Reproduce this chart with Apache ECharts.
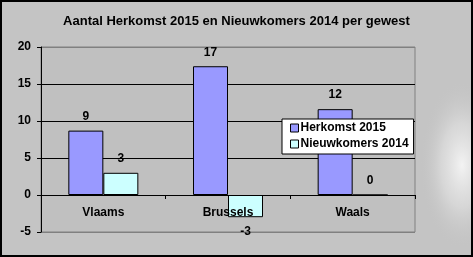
<!DOCTYPE html>
<html>
<head>
<meta charset="utf-8">
<script src="https://cdn.jsdelivr.net/npm/echarts@6/dist/echarts.min.js"></script>
<style>
html,body{margin:0;padding:0;}
#c{width:473px;height:257px;}
</style>
</head>
<body>
<div id="c"></div>
<script>
var titleText = 'Aantal Herkomst 2015 en Nieuwkomers 2014 per gewest';
var categories = ['Vlaams', 'Brussels', 'Waals'];
var seriesNames = ['Herkomst 2015', 'Nieuwkomers 2014'];
var herkomst2015 = [8.7, 17.4, 11.6];
var nieuwkomers2014 = [3, -3, 0];
var yMin = -5, yMax = 20, yStep = 5;

var W = 473, H = 257;
var gridBox = {left: 41, right: 58, top: 47, bottom: 25};
var gridH = H - gridBox.top - gridBox.bottom;
// move category axis up to the value 0 of the value axis
var xAxisOffset = -gridH * (0 - yMin) / (yMax - yMin);

var FONT = 'Arial, "Liberation Sans", sans-serif';
var chart = echarts.init(document.getElementById('c'), null, {renderer: 'canvas'});

function labelled(values) {
  return values.map(function (v) {
    return {
      value: v,
      label: {position: v < 0 ? 'bottom' : 'top'}
    };
  });
}

var barLabel = {
  show: true,
  distance: 8,
  color: '#000',
  fontFamily: FONT,
  fontSize: 12,
  fontWeight: 'bold',
  formatter: function (p) { return String(Math.round(p.value)); }
};

chart.setOption({
  animation: false,
  backgroundColor: '#c4c4c4',
  graphic: [
    {
      type: 'circle', z: -10, silent: true,
      x: 462, y: 165, scaleY: 2,
      shape: {cx: 0, cy: 0, r: 42},
      style: {
        fill: {
          type: 'radial', x: 0.5, y: 0.5, r: 0.5,
          colorStops: [
            {offset: 0, color: 'rgba(248,248,248,0.9)'},
            {offset: 0.5, color: 'rgba(230,230,230,0.55)'},
            {offset: 1, color: 'rgba(196,196,196,0)'}
          ]
        }
      }
    },
    {
      type: 'rect', z: 100, silent: true,
      shape: {x: 1, y: 1, width: W - 2, height: H - 2},
      style: {fill: 'none', stroke: '#000', lineWidth: 2}
    }
  ],
  title: {
    text: titleText,
    left: 'center',
    top: 15,
    padding: 0,
    textStyle: {fontFamily: FONT, fontSize: 13, fontWeight: 'bold', color: '#000'}
  },
  legend: {
    data: seriesNames,
    orient: 'vertical',
    left: 282,
    top: 119,
    width: 133,
    padding: [3, 5, 4, 8],
    itemGap: 4,
    itemWidth: 8,
    itemHeight: 8,
    icon: 'rect',
    backgroundColor: '#fff',
    borderColor: '#000',
    borderWidth: 1,
    borderRadius: 0,
    itemStyle: {borderColor: '#000', borderWidth: 1},
    textStyle: {fontFamily: FONT, fontSize: 12, fontWeight: 'bold', color: '#000', padding: [0, 0, 0, -3]}
  },
  grid: {
    left: gridBox.left, right: gridBox.right, top: gridBox.top, bottom: gridBox.bottom,
    show: true,
    backgroundColor: '#c0c0c0',
    borderColor: '#808080',
    borderWidth: 1,
    containLabel: false
  },
  xAxis: {
    type: 'category',
    data: categories,
    position: 'bottom',
    offset: xAxisOffset,
    z: 3,
    axisLine: {show: true, onZero: false, lineStyle: {color: '#000', width: 1}},
    axisTick: {show: true, inside: false, length: 4, lineStyle: {color: '#000'}},
    axisLabel: {margin: 12, color: '#000', fontFamily: FONT, fontSize: 12, fontWeight: 'bold'},
    splitLine: {show: false}
  },
  yAxis: {
    type: 'value',
    min: yMin, max: yMax, interval: yStep,
    axisLine: {show: true, onZero: false, lineStyle: {color: '#000', width: 1}},
    axisTick: {show: true, length: 4, lineStyle: {color: '#000'}},
    axisLabel: {margin: 10, color: '#000', fontFamily: FONT, fontSize: 12, fontWeight: 'bold'},
    splitLine: {show: true, lineStyle: {color: ['#808080', '#000', '#000', '#000', '#000', '#808080'], width: 1}}
  },
  series: [
    {
      name: seriesNames[0],
      type: 'bar',
      data: labelled(herkomst2015),
      barWidth: 35,
      barGap: '0%',
      itemStyle: {color: '#9999ff', borderColor: '#000', borderWidth: 1},
      label: barLabel
    },
    {
      name: seriesNames[1],
      type: 'bar',
      data: labelled(nieuwkomers2014),
      barWidth: 35,
      barGap: '0%',
      itemStyle: {color: '#ccffff', borderColor: '#000', borderWidth: 1},
      label: barLabel
    }
  ]
});
</script>
</body>
</html>
